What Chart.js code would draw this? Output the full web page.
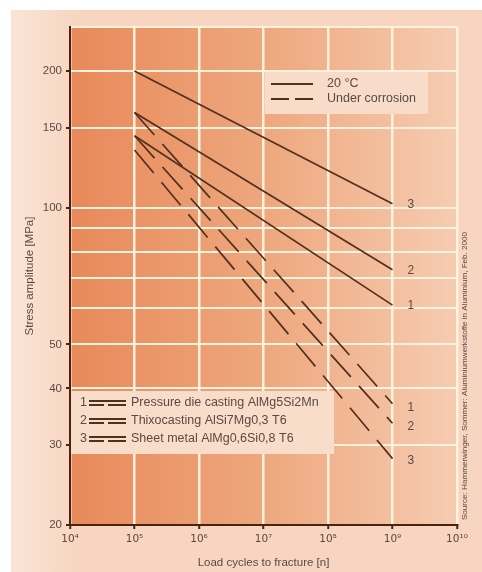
<!DOCTYPE html>
<html>
<head>
<meta charset="utf-8">
<script src="https://cdn.jsdelivr.net/npm/chart.js@4/dist/chart.umd.min.js"></script>
<style>
  html, body { margin: 0; padding: 0; background: #ffffff; }
  canvas { display: block; }
</style>
</head>
<body>
<canvas id="c" width="482" height="572"></canvas>
<script>
// Wöhler (S-N) curves of three aluminium materials, log-log
const cycles = [1e5, 1e9];
const dry1 = [144, 61];    // 20 °C, material 1
const dry2 = [162, 73];    // 20 °C, material 2
const dry3 = [200, 102];   // 20 °C, material 3
const corr1 = [162, 37];   // under corrosion, material 1
const corr2 = [144, 33.5]; // under corrosion, material 2
const corr3 = [134, 28];   // under corrosion, material 3

const yGridValues = [20, 30, 40, 50, 60, 70, 80, 90, 100, 150, 200, 250];
const yLabelled = [20, 30, 40, 50, 100, 150, 200];
const xTickValues = [1e4, 1e5, 1e6, 1e7, 1e8, 1e9, 1e10];
const materials = ['Pressure die casting AlMg5Si2Mn', 'Thixocasting AlSi7Mg0,3 T6', 'Sheet metal AlMg0,6Si0,8 T6'];
const conditions = ['20 °C', 'Under corrosion'];
const sourceNote = 'Source: Hammerwinger, Sommer: Aluminiumwerkstoffe in Aluminium, Feb. 2000';

const FONT = '"Liberation Sans", Arial, sans-serif';
const LINE = '#52301e';
const TEXT = '#5a4a42';
const AXIS = '#4a2412';
const GRID = '#fdf2dc';
const DASH = [30, 12];

const SUP = { '0': '⁰', '1': '¹', '2': '²', '3': '³', '4': '⁴', '5': '⁵', '6': '⁶', '7': '⁷', '8': '⁸', '9': '⁹' };
const pow10 = v => '10' + String(Math.round(Math.log10(v))).split('').map(d => SUP[d]).join('');

function series(label, values, dashed) {
  return {
    label,
    data: cycles.map((c, i) => ({ x: c, y: values[i] })),
    borderColor: LINE,
    borderWidth: 1.7,
    borderDash: dashed ? DASH : [],
    pointRadius: 0,
    fill: false,
    tension: 0
  };
}

const backdrop = {
  id: 'backdrop',
  beforeDraw(chart) {
    const { ctx, chartArea: a } = chart;
    ctx.save();
    ctx.fillStyle = '#ffffff';
    ctx.fillRect(0, 0, chart.width, chart.height);
    const pg = ctx.createLinearGradient(11, 0, 80, 0);
    pg.addColorStop(0, '#fbe4d6');
    pg.addColorStop(1, '#f7d5c0');
    ctx.fillStyle = pg;
    ctx.fillRect(11, 10, chart.width - 11, chart.height - 10);
    const g = ctx.createLinearGradient(a.left, 0, a.right, 0);
    g.addColorStop(0, '#e8895a');
    g.addColorStop(0.5, '#eea77d');
    g.addColorStop(1, '#f6ccb2');
    ctx.fillStyle = g;
    ctx.fillRect(a.left, a.top, a.right - a.left, a.bottom - a.top);
    ctx.restore();
  }
};

const annotations = {
  id: 'annotations',
  afterDatasetsDraw(chart) {
    const { ctx } = chart;
    const xs = chart.scales.x, ys = chart.scales.y;
    ctx.save();

    // key for the line styles
    ctx.fillStyle = '#f8dcc9';
    ctx.fillRect(265, 72, 163, 42);
    ctx.strokeStyle = LINE;
    ctx.lineWidth = 2;
    ctx.beginPath(); ctx.moveTo(271, 84); ctx.lineTo(313, 84); ctx.stroke();
    ctx.beginPath(); ctx.moveTo(271, 99); ctx.lineTo(289, 99); ctx.moveTo(295, 99); ctx.lineTo(313, 99); ctx.stroke();
    ctx.fillStyle = TEXT;
    ctx.font = '12.5px ' + FONT;
    ctx.textBaseline = 'middle';
    ctx.textAlign = 'left';
    ctx.fillText(conditions[0], 327, 84);
    ctx.fillText(conditions[1], 327, 99);

    // key for the materials
    ctx.fillStyle = '#f9ddcb';
    ctx.fillRect(71, 391, 263, 63);
    ctx.font = '12.5px ' + FONT;
    materials.forEach((m, i) => {
      const y = 403 + i * 18;
      ctx.fillStyle = TEXT;
      ctx.fillText(String(i + 1), 80, y);
      ctx.strokeStyle = LINE;
      ctx.lineWidth = 1.8;
      ctx.beginPath(); ctx.moveTo(89, y - 2); ctx.lineTo(126, y - 2); ctx.stroke();
      ctx.beginPath(); ctx.moveTo(89, y + 2); ctx.lineTo(104, y + 2); ctx.moveTo(108, y + 2); ctx.lineTo(126, y + 2); ctx.stroke();
      ctx.fillText(m, 131, y);
    });

    // curve numbers at the right-hand ends
    ctx.fillStyle = TEXT;
    ctx.font = '12px ' + FONT;
    const ends = [[dry1, 1, 1], [dry2, 2, 1], [dry3, 3, 1], [corr1, 1, 4], [corr2, 2, 3], [corr3, 3, 2]];
    ends.forEach(([vals, n, dy]) => {
      const x = xs.getPixelForValue(cycles[cycles.length - 1]) + 15;
      const y = ys.getPixelForValue(vals[vals.length - 1]) + dy;
      ctx.fillText(String(n), x, y);
    });

    // source note, rotated along the right edge
    ctx.translate(465, 376);
    ctx.rotate(-Math.PI / 2);
    ctx.font = '8.1px ' + FONT;
    ctx.textAlign = 'center';
    ctx.fillStyle = TEXT;
    ctx.fillText(sourceNote, 0, 0);
    ctx.restore();
  }
};

new Chart(document.getElementById('c'), {
  type: 'line',
  data: {
    datasets: [
      series('1 – 20 °C', dry1, false),
      series('2 – 20 °C', dry2, false),
      series('3 – 20 °C', dry3, false),
      series('1 – under corrosion', corr1, true),
      series('2 – under corrosion', corr2, true),
      series('3 – under corrosion', corr3, true)
    ]
  },
  options: {
    responsive: false,
    animation: false,
    devicePixelRatio: 1,
    layout: { padding: { left: 0, top: 27, right: 25, bottom: 0 } },
    plugins: { legend: { display: false }, tooltip: { enabled: false } },
    scales: {
      x: {
        type: 'logarithmic',
        min: 1e4,
        max: 1e10,
        afterBuildTicks: s => { s.ticks = xTickValues.map(v => ({ value: v })); },
        afterFit: s => { s.height = 47; },
        ticks: {
          callback: v => pow10(v),
          autoSkip: false,
          maxRotation: 0,
          padding: 4,
          color: TEXT,
          font: { family: '"DejaVu Sans", sans-serif', size: 10.5 }
        },
        grid: { color: GRID, lineWidth: 2.5, tickLength: 4, tickColor: AXIS, tickWidth: 2 },
        border: { display: true, color: AXIS, width: 2 },
        title: {
          display: true,
          text: 'Load cycles to fracture [n]',
          color: TEXT,
          font: { family: FONT, size: 11.5 },
          padding: { top: 0, bottom: 2 }
        }
      },
      y: {
        type: 'logarithmic',
        min: 20,
        max: 250,
        afterBuildTicks: s => { s.ticks = yGridValues.map(v => ({ value: v })); },
        afterFit: s => { s.width = 70; },
        ticks: {
          callback: v => (yLabelled.includes(v) ? String(v) : ''),
          autoSkip: false,
          padding: 4,
          color: TEXT,
          font: { family: FONT, size: 11.5 }
        },
        grid: {
          color: GRID,
          lineWidth: 2,
          tickLength: 4,
          tickWidth: 2,
          tickColor: c => (c.tick && yLabelled.includes(c.tick.value) ? AXIS : 'rgba(0,0,0,0)')
        },
        border: { display: true, color: AXIS, width: 2 },
        title: {
          display: true,
          text: 'Stress amplitude [MPa]',
          color: TEXT,
          font: { family: FONT, size: 11.5 },
          padding: { top: 23, bottom: 0 }
        }
      }
    }
  },
  plugins: [backdrop, annotations]
});
</script>
</body>
</html>
